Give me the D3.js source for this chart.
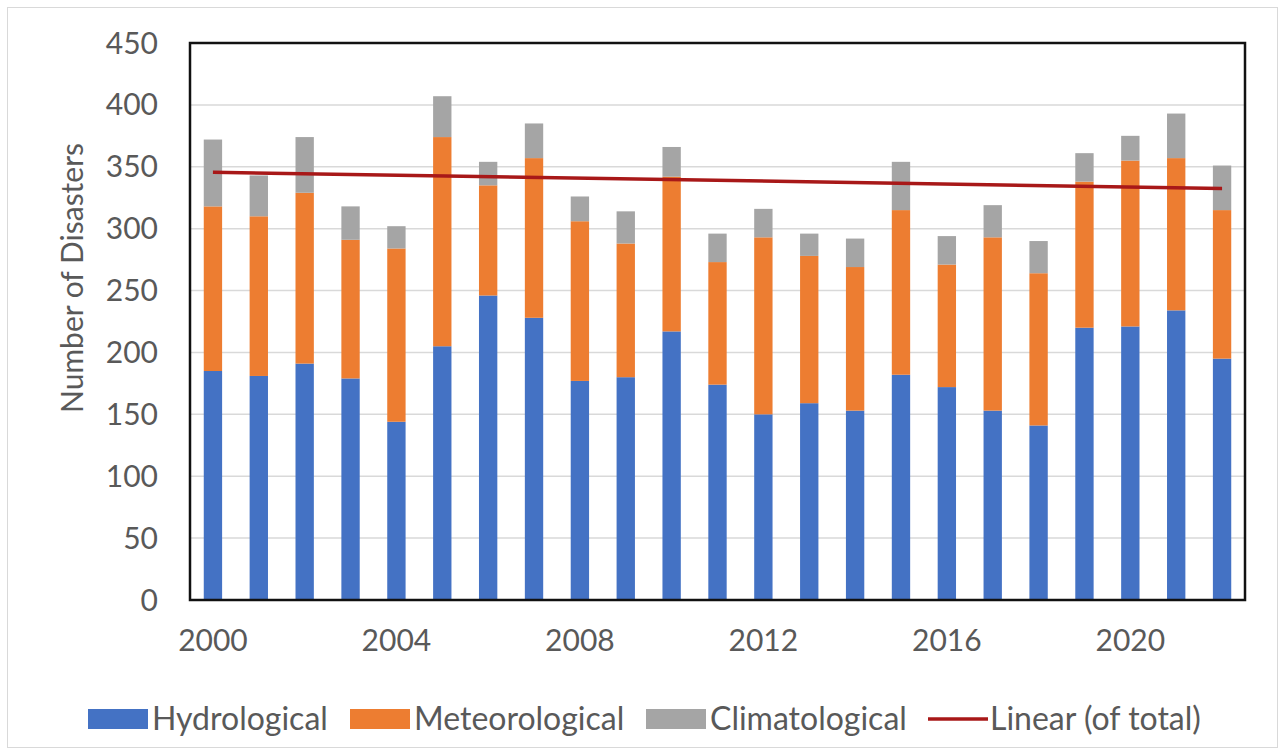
<!DOCTYPE html>
<html>
<head>
  <script src="https://d3js.org/d3.v7.min.js"></script>
  <style>
    body { margin: 0; background: #fff; }
    text { font-family: Lato, "Open Sans", sans-serif; fill: #595959; }
  </style>
</head>
<body>
  <svg width="1285" height="755"></svg>
  <script>
    // data
    const years = d3.range(2000, 2023);
    const hydrological   = [185, 181, 191, 179, 144, 205, 246, 228, 177, 180, 217, 174, 150, 159, 153, 182, 172, 153, 141, 220, 221, 234, 195];
    const meteorological = [133, 129, 138, 112, 140, 169,  89, 129, 129, 108, 125,  99, 143, 119, 116, 133,  99, 140, 123, 118, 134, 123, 120];
    const climatological = [ 54,  33,  45,  27,  18,  33,  19,  28,  20,  26,  24,  23,  23,  18,  23,  39,  23,  26,  26,  23,  20,  36,  36];
    const yTicks = d3.range(0, 451, 50);
    const xTickYears = [2000, 2004, 2008, 2012, 2016, 2020];
    const seriesNames = ["Hydrological", "Meteorological", "Climatological"];
    const colors = ["#4472C4", "#ED7D31", "#A5A5A5"];

    const svg = d3.select("svg");
    const margin = { left: 190, right: 40, top: 43, bottom: 155 };
    const width = 1285, height = 755;

    // outer frame
    svg.append("rect")
      .attr("x", 7.5).attr("y", 7.5)
      .attr("width", width - 15).attr("height", height - 15)
      .attr("fill", "#fff").attr("stroke", "#d9d9d9");

    const x = d3.scaleBand()
      .domain(years)
      .range([margin.left, width - margin.right])
      .paddingInner(0.6).paddingOuter(0.3);

    const y = d3.scaleLinear()
      .domain([0, 450])
      .range([height - margin.bottom, margin.top]);

    // gridlines
    svg.append("g")
      .selectAll("line")
      .data(yTicks)
      .enter().append("line")
      .attr("x1", margin.left).attr("x2", width - margin.right)
      .attr("y1", d => y(d)).attr("y2", d => y(d))
      .attr("stroke", "#d9d9d9").attr("stroke-width", 1.5);

    // stacked bars
    const rows = years.map((yr, i) => ({
      year: yr,
      Hydrological: hydrological[i],
      Meteorological: meteorological[i],
      Climatological: climatological[i]
    }));
    const stack = d3.stack().keys(seriesNames)(rows);

    svg.append("g")
      .selectAll("g")
      .data(stack)
      .enter().append("g")
      .attr("fill", (d, i) => colors[i])
      .selectAll("rect")
      .data(d => d)
      .enter().append("rect")
      .attr("x", d => x(d.data.year))
      .attr("width", x.bandwidth())
      .attr("y", d => y(d[1]))
      .attr("height", d => y(d[0]) - y(d[1]));

    // linear trend of totals
    const totals = rows.map(d => d.Hydrological + d.Meteorological + d.Climatological);
    const n = years.length;
    const mx = d3.mean(years), my = d3.mean(totals);
    const slope = d3.sum(years, (yr, i) => (yr - mx) * (totals[i] - my)) / d3.sum(years, yr => (yr - mx) ** 2);
    const icpt = my - slope * mx;
    const cx = yr => x(yr) + x.bandwidth() / 2;

    svg.append("line")
      .attr("x1", cx(years[0])).attr("y1", y(icpt + slope * years[0]))
      .attr("x2", cx(years[n - 1])).attr("y2", y(icpt + slope * years[n - 1]))
      .attr("stroke", "#A81818").attr("stroke-width", 3.5);

    // plot border
    svg.append("rect")
      .attr("x", margin.left).attr("y", margin.top)
      .attr("width", width - margin.right - margin.left)
      .attr("height", height - margin.bottom - margin.top)
      .attr("fill", "none").attr("stroke", "#111").attr("stroke-width", 2.5);

    // y axis labels
    svg.append("g")
      .selectAll("text")
      .data(yTicks)
      .enter().append("text")
      .attr("x", 158).attr("y", d => y(d))
      .attr("dy", "0.35em")
      .attr("text-anchor", "end")
      .style("font-size", "30px")
      .text(d => d);

    // x axis labels
    svg.append("g")
      .selectAll("text")
      .data(xTickYears)
      .enter().append("text")
      .attr("x", d => cx(d)).attr("y", 640)
      .attr("dy", "0.35em")
      .attr("text-anchor", "middle")
      .style("font-size", "30px")
      .text(d => d);

    // axis title
    svg.append("text")
      .attr("transform", "translate(72,278) rotate(-90)")
      .attr("dy", "0.35em")
      .attr("text-anchor", "middle")
      .style("font-size", "30px")
      .text("Number of Disasters");

    // legend
    const legendX = [88, 350, 646, 928];
    const legend = svg.append("g");
    seriesNames.forEach((name, i) => {
      legend.append("rect")
        .attr("x", legendX[i]).attr("y", 709)
        .attr("width", 60).attr("height", 20)
        .attr("fill", colors[i]);
      legend.append("text")
        .attr("x", legendX[i] + 64).attr("y", 719)
        .attr("dy", "0.35em")
        .style("font-size", "32px")
        .text(name);
    });
    legend.append("line")
      .attr("x1", legendX[3]).attr("x2", legendX[3] + 60)
      .attr("y1", 719).attr("y2", 719)
      .attr("stroke", "#A81818").attr("stroke-width", 3.5);
    legend.append("text")
      .attr("x", legendX[3] + 62).attr("y", 719)
      .attr("dy", "0.35em")
      .style("font-size", "32px")
      .text("Linear (of total)");
  </script>
</body>
</html>
